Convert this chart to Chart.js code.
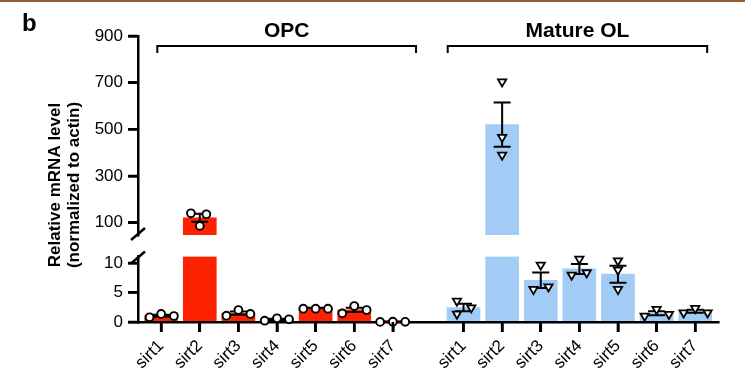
<!DOCTYPE html>
<html><head><meta charset="utf-8">
<script src="https://cdn.jsdelivr.net/npm/chart.js@4/dist/chart.umd.min.js"></script>
<style>html,body{margin:0;padding:0;background:#fff;}#wrap{width:745px;height:385px;position:relative;}</style>
</head><body><div id="wrap"><canvas id="c" width="745" height="385"></canvas></div>
<script>
// ---------------- data ----------------
const categories = ['sirt1','sirt2','sirt3','sirt4','sirt5','sirt6','sirt7'];
const groupNames = ['OPC','Mature OL'];
const opcMean = [1.06, 121, 1.49, 0.44, 2.4, 2.07, 0.03];
const opcSem  = [0.16, 17.4, 0.28, 0.12, 0.03, 0.36, 0.01];
const opcPoints = [[0.8,1.36,1.02],[140,136,86],[1.07,2.03,1.36],[0.22,0.63,0.46],[2.25,2.25,2.25],[1.47,2.71,2.03],[0.02,0.05,0.03]];
const olMean = [2.45, 520, 7.06, 9.0, 8.1, 1.49, 1.83];
const olSem  = [0.64, 94.6, 1.31, 0.85, 1.43, 0.34, 0.25];
const olPoints = [[3.56,1.36,2.42],[704,466,390],[9.66,5.54,5.98],[10.68,7.97,8.36],[10.39,8.81,5.54],[1.02,2.15,1.31],[1.58,2.32,1.58]];
const upperTicks = [100,300,500,700,900];
const lowerTicks = [0,5,10];
const yTitle = ['Relative mRNA level','(normalized to actin)'];
const panelLabel = 'b';

// ---------------- layout ----------------
const FONT = "'Liberation Sans', Arial, Helvetica, sans-serif";
const LOWER_MAX = 11.1, UPPER_MIN = 47, UPPER_MAX = 900;
const OL_OFFSET = 7.83;
const opcX = categories.map((c,i)=>i);
const olX = categories.map((c,i)=>OL_OFFSET+i);
const xPos = opcX.concat(olX);
const xLabels = categories.concat(categories);
const opcJitter = [[-0.3,0,0.33],[-0.23,0.17,0],[-0.31,0,0.31],[-0.32,0,0.31],[-0.32,0,0.32],[-0.31,0,0.32],[-0.33,0,0.32]];
const olJitter  = [[-0.17,-0.17,0.2],[0,0,0],[0,-0.19,0.2],[0,-0.2,0.19],[0,0,0],[-0.31,0,0.32],[-0.3,0,0.32]];
const brackets = [[-0.1, 6.6],[7.42, 14.14]];
const RED = '#ff2200', BLUE = '#a2ccf5';
const TICK_LEN = 10;

function lowerBars(xs, means){ return xs.map((x,i)=>({x, y: Math.min(means[i], LOWER_MAX)})); }
function upperBars(xs, means){ return xs.map((x,i)=>means[i] > UPPER_MIN ? {x, y:[UPPER_MIN, means[i]]} : null).filter(Boolean); }
function pts(xs, points, jit, upper){
  const out = [];
  xs.forEach((x,i)=>points[i].forEach((v,k)=>{
    if (upper ? v > LOWER_MAX : v <= LOWER_MAX) out.push({x: x + jit[i][k], y: v});
  }));
  return out;
}
const barCommon = {type:'bar', barThickness:33, grouped:false, borderWidth:0, order:3};
const circ = {type:'scatter', showLine:false, pointStyle:'circle', pointRadius:3.9, pointBorderWidth:1.9,
  pointBackgroundColor:'#fff', pointBorderColor:'#000', order:1, clip:false};
const tri = {type:'scatter', showLine:false, pointStyle:'triangle', rotation:180, pointRadius:4.8, pointBorderWidth:1.8,
  pointBackgroundColor:'#fff', pointBorderColor:'#000', order:1, clip:false};

const datasets = [
  Object.assign({}, barCommon, {data: lowerBars(opcX, opcMean), yAxisID:'yBot', backgroundColor:RED}),
  Object.assign({}, barCommon, {data: upperBars(opcX, opcMean), yAxisID:'yTop', backgroundColor:RED}),
  Object.assign({}, barCommon, {data: lowerBars(olX, olMean), yAxisID:'yBot', backgroundColor:BLUE}),
  Object.assign({}, barCommon, {data: upperBars(olX, olMean), yAxisID:'yTop', backgroundColor:BLUE}),
  Object.assign({}, circ, {data: pts(opcX, opcPoints, opcJitter, false), yAxisID:'yBot'}),
  Object.assign({}, circ, {data: pts(opcX, opcPoints, opcJitter, true), yAxisID:'yTop'}),
  Object.assign({}, tri, {data: pts(olX, olPoints, olJitter, false), yAxisID:'yBot'}),
  Object.assign({}, tri, {data: pts(olX, olPoints, olJitter, true), yAxisID:'yTop'}),
];

let errDrawn = false;
const extras = {
  id:'extras',
  beforeDatasetsDraw(){ errDrawn = false; },
  beforeDatasetDraw(chart, args){
    if (errDrawn || args.meta.type !== 'scatter') return;
    errDrawn = true;
    const ctx = chart.ctx, xs = chart.scales.x;
    ctx.save();
    ctx.strokeStyle = '#000'; ctx.lineWidth = 2;
    const drawErr = (xv, m, s) => {
      const sc = m > LOWER_MAX ? chart.scales.yTop : chart.scales.yBot;
      const px = xs.getPixelForValue(xv), y1 = sc.getPixelForValue(m - s), y2 = sc.getPixelForValue(m + s);
      ctx.beginPath();
      ctx.moveTo(px, y1); ctx.lineTo(px, y2);
      ctx.moveTo(px-8.5, y1); ctx.lineTo(px+8.5, y1);
      ctx.moveTo(px-8.5, y2); ctx.lineTo(px+8.5, y2);
      ctx.stroke();
    };
    opcX.forEach((x,i)=>drawErr(x, opcMean[i], opcSem[i]));
    olX.forEach((x,i)=>drawErr(x, olMean[i], olSem[i]));
    ctx.restore();
  },
  afterDraw(chart){
    const ctx = chart.ctx, xs = chart.scales.x, area = chart.chartArea;
    ctx.save();
    // axis tick marks (from each scale's own tick list)
    ctx.strokeStyle = '#000'; ctx.lineWidth = 2.6; ctx.lineCap = 'butt';
    ctx.beginPath();
    xPos.forEach(v=>{ const px = xs.getPixelForValue(v); ctx.moveTo(px, area.bottom); ctx.lineTo(px, area.bottom + TICK_LEN); });
    [['yTop', upperTicks], ['yBot', lowerTicks]].forEach(([id, tks])=>{
      const sc = chart.scales[id];
      tks.forEach(v=>{ const py = sc.getPixelForValue(v); ctx.moveTo(area.left - TICK_LEN, py); ctx.lineTo(area.left, py); });
    });
    ctx.stroke();
    // top rule
    ctx.strokeStyle = '#8f5f33'; ctx.lineWidth = 2;
    ctx.beginPath(); ctx.moveTo(0,1); ctx.lineTo(chart.width,1); ctx.stroke();
    // panel label
    ctx.fillStyle = '#000'; ctx.font = 'bold 24px ' + FONT; ctx.textAlign='left'; ctx.textBaseline='alphabetic';
    ctx.fillText(panelLabel, 22, 31);
    // group brackets
    ctx.strokeStyle = '#000'; ctx.lineWidth = 2;
    ctx.font = 'bold 21px ' + FONT; ctx.textAlign = 'center';
    brackets.forEach((b,g)=>{
      const x1 = xs.getPixelForValue(b[0]), x2 = xs.getPixelForValue(b[1]);
      ctx.beginPath();
      ctx.moveTo(x1, 53); ctx.lineTo(x1, 46); ctx.lineTo(x2, 46); ctx.lineTo(x2, 53);
      ctx.stroke();
      ctx.fillText(groupNames[g], (x1+x2)/2, 37);
    });
    // axis break marks
    const ax = area.left;
    ctx.lineWidth = 2.5;
    [chart.scales.yTop.bottom - 1, chart.scales.yBot.top + 1].forEach(y=>{
      ctx.beginPath(); ctx.moveTo(ax-7, y+6); ctx.lineTo(ax+7, y-6); ctx.stroke();
    });
    // y title
    const cy = 185;
    ctx.font = 'bold 17px ' + FONT; ctx.textAlign='center'; ctx.textBaseline='alphabetic';
    [[60, yTitle[0]], [79, yTitle[1]]].forEach(([bx, t])=>{
      ctx.save(); ctx.translate(bx, cy); ctx.rotate(-Math.PI/2); ctx.fillText(t, 0, 0); ctx.restore();
    });
    ctx.restore();
  }
};

const tickFont = {size:17, family:FONT};
const gridOpts = {display:true, drawOnChartArea:false, drawTicks:true, tickLength:TICK_LEN,
  color:'#000', lineWidth:2.6, tickWidth:2.6, tickColor:'#000'};
const yCommon = (ticks) => ({
  type:'linear', position:'left',
  afterBuildTicks: s => { s.ticks = ticks.map(v=>({value:v})); },
  afterFit: s => { s.width = 138; },
  ticks:{color:'#000', font:tickFont, padding:5, autoSkip:false},
  grid:Object.assign({}, gridOpts),
  border:{display:true, color:'#000', width:2.5}
});

new Chart(document.getElementById('c'), {
  type:'bar',
  data:{datasets},
  options:{
    responsive:false, animation:false, events:[],
    layout:{padding:{top:36, right:27, bottom:0, left:0}},
    plugins:{legend:{display:false}, tooltip:{enabled:false}},
    scales:{
      x:{type:'linear', offset:false, min:-0.6, max:14.42,
        afterBuildTicks: s => { s.ticks = xPos.map(v=>({value:v})); },
        afterFit: s => { s.height = 63; },
        ticks:{autoSkip:false, minRotation:45, maxRotation:45, padding:4, color:'#000', font:tickFont,
          callback:(v,i)=>xLabels[i]},
        grid:Object.assign({offset:false}, gridOpts),
        border:{display:true, color:'#000', width:2.5}
      },
      yBot: Object.assign(yCommon(lowerTicks), {stack:'y', stackWeight:65.5, min:0, max:LOWER_MAX}),
      yGap: {type:'linear', position:'left', stack:'y', stackWeight:21.5, min:0, max:1,
        afterFit: s => { s.width = 138; },
        grid:{display:false}, border:{display:false}, ticks:{display:false}},
      yTop: Object.assign(yCommon(upperTicks), {stack:'y', stackWeight:199, min:UPPER_MIN, max:UPPER_MAX}),
    }
  },
  plugins:[extras]
});
</script></body></html>
